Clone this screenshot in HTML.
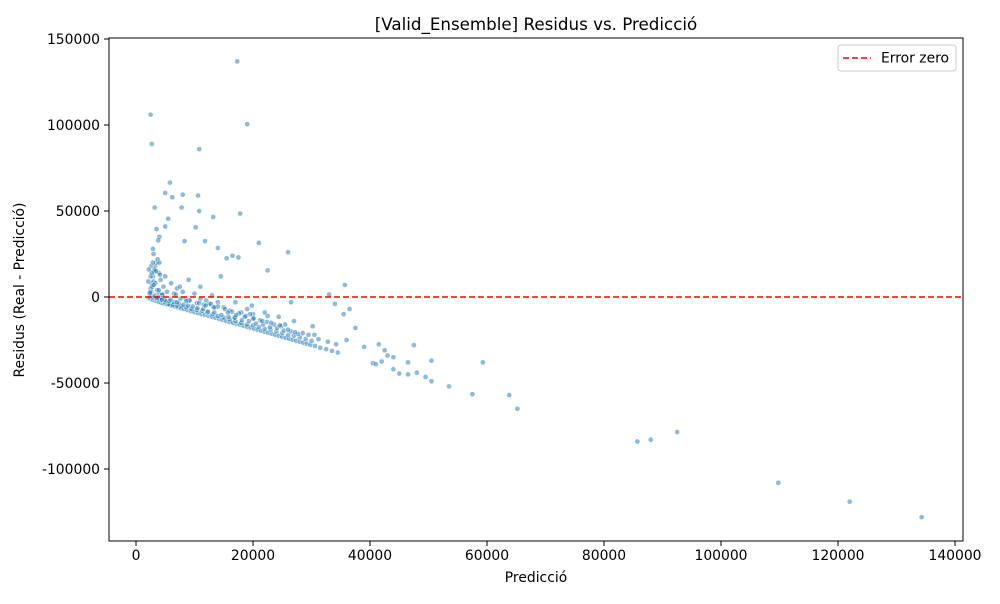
<!DOCTYPE html>
<html><head><meta charset="utf-8"><style>
body{margin:0;background:#fff;font-family:"DejaVu Sans",sans-serif;}
svg text{font-family:"DejaVu Sans",sans-serif;fill:#000;}
</style></head><body>
<svg id="chart" width="1000" height="600">
<text x="536" y="30" font-size="16.7" text-anchor="middle">[Valid_Ensemble] Residus vs. Predicció</text>
<text x="536" y="582" font-size="13.9" text-anchor="middle">Predicció</text>
<text transform="translate(24,290) rotate(-90)" font-size="13.9" text-anchor="middle">Residus (Real - Predicció)</text>
<g id="ticks"></g>
<g id="pts"></g>
<rect x="109" y="38" width="854" height="503" fill="none" stroke="#000" stroke-width="1"/>
<g>
<rect x="838" y="45" width="118" height="26" fill="#fff" stroke="#ccc" rx="3"/>
<line x1="843" y1="58" x2="871" y2="58" stroke="#ff0000" stroke-width="1.6" stroke-dasharray="6,3"/>
<text x="881" y="62.5" font-size="13.9">Error zero</text>
</g>
</svg>
<script>
const xTicks=[0,20000,40000,60000,80000,100000,120000,140000];
const yTicks=[-100000,-50000,0,50000,100000,150000];
const predX=[2500,2700,17300,19000,10800,5800,5000,8000,10600,6200,3200,7800,10800,17800,13200,5500,5000,3500,10200,4000,3800,8300,11800,21000,14000,26000,16500,15500,17500,22500,35700,33000,34000,36500,35500,37500,36000,39000,41500,42500,43000,44000,47500,50500,59300,46500,40500,41000,42000,44000,45000,46500,48000,49500,50500,53500,57500,63800,65200,85700,88000,92500,109800,122000,134300,
2200,2400,2600,2800,3000,3200,3400,3600,3800,4000,4300,4600,5000,5400,5800,6200,6700,7200,7700,8200,8800,9400,10000,10600,11200,11800,12400,13000,13600,14200,14800,15400,16000,16600,17200,17800,18400,19000,19600,20200,20800,21400,22000,22600,23200,23800,24400,25000,25600,26200,26800,27400,28000,28600,29200,29800,30600,31500,32500,33500,34500,
2300,2500,2700,2900,3100,3300,3500,3700,3900,4200,2400,2600,2800,3000,3300,3600,4000,4500,2300,2600,2900,3200,3500,3900,4400,5000,5600,6300,7000,7800,8600,9500,10400,11300,12200,13100,14000,15000,16000,17000,18000,19000,20000,21000,22000,23000,24000,25000,26000,27000,28000,29000,30000,
3000,4000,5000,6000,7000,8000,9000,10000,11000,12000,13000,14000,15000,16000,17000,18000,19000,20000,12500,9000,6500,4500,3200,11000,13500,16800,19500,22500,25500,28500,26500,30500,14500,7500,8500,5200,2600,2900,3400,4100,
11500,12300,13400,14600,15800,16900,18100,19300,20500,21700,22900,24100,25300,26500,27700,10500,9700,8900,8100,7300,6500,5700,4900,4300,3700,12800,14000,15200,16400,17600,18800,20000,21200,22400,23600,24800,26000,27200,29500,31200,32800,34200,9200,10400,11600,6800,7600,5300,4700,3300,2500,2100,3900,3000,2700,2200,2900,3600,4400,2400,
15700,17100,18600,20100,21600,23100,24600,13300,11900,10800,8600,7000,5900,19800,22000,24400,27000,30200];
const residY=[106000,89000,137000,100500,86000,66500,60500,59500,59000,58000,52000,52000,50000,48500,46500,45500,41000,39500,40500,35000,33000,32500,32500,31500,28500,26000,24000,22500,23000,15500,7000,1500,-4000,-7000,-10000,-18000,-25000,-29000,-27500,-31000,-34000,-35000,-28000,-37000,-38000,-38000,-38500,-39000,-37500,-42000,-44500,-45000,-44000,-46500,-49000,-52000,-56500,-57000,-65000,-84000,-83000,-78500,-108000,-119000,-128000,
-800,-1000,-1300,-1500,-1800,-2000,-2200,-2400,-2600,-2900,-3200,-3500,-3900,-4300,-4700,-5100,-5600,-6100,-6600,-7000,-7600,-8200,-8800,-9300,-9900,-10400,-11000,-11600,-12100,-12700,-13300,-13900,-14500,-15000,-15600,-16200,-16800,-17400,-17900,-18500,-19100,-19700,-20300,-20800,-21400,-22000,-22600,-23200,-23800,-24300,-24900,-25500,-26000,-26600,-27200,-27800,-28500,-29500,-30300,-31300,-32300,
2000,5000,8000,12000,15000,18000,20000,22000,14000,10000,500,3000,6000,9000,1000,4000,2000,1000,-200,700,-400,300,-1000,-1500,-2000,-3000,-4000,-4500,-5000,-5500,-6000,-7000,-7500,-8000,-9000,-10000,-11000,-12000,-13000,-14000,-15000,-16000,-16500,-17500,-18500,-19000,-20000,-21000,-22000,-22500,-23500,-24500,-25500,
25000,20000,12000,8000,5000,3000,10000,2000,6000,-2000,1000,-3000,-6000,-8000,-3000,-9000,-7000,-10000,-4000,-2000,2000,1500,16000,-1000,-6000,-12000,-10000,-11000,-16000,-21000,-3000,-22000,12000,6000,-1000,-2500,18000,28000,15000,13000,
-7000,-8500,-9000,-10500,-11500,-12000,-13500,-14000,-15500,-16000,-17500,-18000,-19500,-20000,-21500,-6500,-5500,-5000,-4500,-3800,-3000,-2500,-1800,-500,200,-4000,-5500,-7000,-8500,-9500,-11000,-12500,-13500,-14500,-16000,-17000,-19000,-20500,-22000,-24500,-26000,-27500,-2000,-3500,-4500,1500,-1000,3000,6000,8000,12000,9000,4000,7000,14000,16000,20000,-500,-1500,2500,
-9000,-10500,-11500,-12500,-14000,-15000,-16500,-6000,-5000,-3500,-2500,-3000,-1500,-5000,-9000,-11500,-14000,-17000];
const X0=136,XS=117/20000,Y0=297,YS=86/50000;
const xs=v=>X0+v*XS, ys=v=>Y0-v*YS;
const NS="http://www.w3.org/2000/svg";
const tg=document.getElementById('ticks');
function mk(t,a){const e=document.createElementNS(NS,t);for(const k in a)e.setAttribute(k,a[k]);return e;}
xTicks.forEach(v=>{const x=xs(v);
const l=mk('line',{x1:x,x2:x,y1:541,y2:546,stroke:'#000'});

tg.appendChild(l);
const t=mk('text',{x:x,y:560,'font-size':13.9,'text-anchor':'middle'});t.textContent=v;

tg.appendChild(t);});
yTicks.forEach(v=>{const y=ys(v);
const l=mk('line',{x1:104,x2:109,y1:y,y2:y,stroke:'#000'});

tg.appendChild(l);
const t=mk('text',{x:100,y:y+5,'font-size':13.9,'text-anchor':'end'});t.textContent=v;

tg.appendChild(t);});
const pg=document.getElementById('pts');
predX.forEach((p,i)=>{const c=mk('circle',{cx:xs(p),cy:ys(residY[i]),r:2.6,fill:'rgba(31,119,180,0.5)',stroke:'#fff','stroke-width':0.5});

pg.appendChild(c);});
const zl=mk('line',{x1:109,x2:963,y1:ys(0),y2:ys(0),stroke:'#ff0000','stroke-width':1.6,'stroke-dasharray':'6,3'});

pg.appendChild(zl);
</script>
</body></html>
